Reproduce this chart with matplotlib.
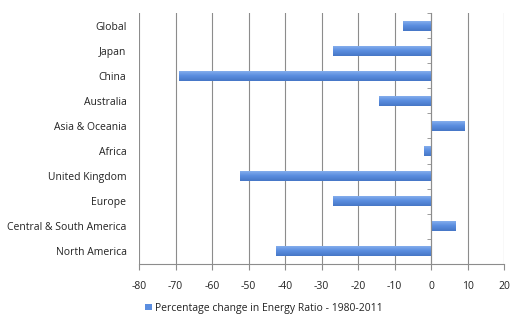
import matplotlib
matplotlib.use('Agg')
import matplotlib.pyplot as plt
import numpy as np
from matplotlib.colors import LinearSegmentedColormap

# Percentage change in energy ratio, 1980-2011, by region (top to bottom)
regions = ['Global', 'Japan', 'China', 'Australia', 'Asia & Oceania', 'Africa',
           'United Kingdom', 'Europe', 'Central & South America', 'North America']
change = [-7.8, -26.8, -69.0, -14.3, 9.3, -1.8, -52.4, -26.8, 6.7, -42.5]
xticks = list(range(-80, 21, 10))
series_name = 'Percentage change in Energy Ratio - 1980-2011'

plt.rcParams['font.family'] = ['Open Sans', 'DejaVu Sans']
fs = 7.5

fig = plt.figure(figsize=(5.23, 3.24), dpi=100)
ax = fig.add_axes([139 / 523, 60 / 324, 365 / 523, 251 / 324])

y = np.arange(len(regions))
bars = ax.barh(y, change, height=0.4, color='#5b8ee0', zorder=3,
               label=series_name)

# shaded look: light top, darker bottom, clipped to each bar
grad = np.linspace(0, 1, 64).reshape(-1, 1)
cmap = LinearSegmentedColormap.from_list('barshade', ['#8db4f0', '#5b8ee0', '#4677c6'])
for b in bars:
    x0, y0 = b.get_x(), b.get_y()
    w, h = b.get_width(), b.get_height()
    im = ax.imshow(grad, cmap=cmap, aspect='auto', zorder=4,
                   extent=[x0, x0 + w, y0 + h, y0], origin='upper')
    im.set_clip_path(b)

ax.set_xlim(-80, 20)
ax.set_ylim(len(regions) - 0.5, -0.5)
ax.set_xticks(xticks)
ax.set_xticklabels([str(t) for t in xticks])
ax.set_yticks(y)
ax.set_yticklabels(regions)

ax.xaxis.grid(True, color='#8c8c8c', linewidth=0.8, zorder=0)
ax.spines['top'].set_visible(False)
ax.spines['left'].set_visible(False)
ax.spines['bottom'].set_color('#8c8c8c')
ax.spines['right'].set_position(('data', 0))
ax.spines['right'].set_color('#8c8c8c')
ax.spines['right'].set_zorder(5)

ax.tick_params(axis='x', length=4, color='#8c8c8c', pad=8,
               labelsize=fs, labelcolor='#222222')
ax.tick_params(axis='y', which='major', length=0, pad=9, left=True, right=False,
               labelleft=True, labelright=False, labelsize=fs, labelcolor='#222222')
ax.set_yticks(np.arange(-0.5, len(regions), 1.0), minor=True)
ax.tick_params(axis='y', which='minor', left=False, right=True, direction='in',
               length=3, color='#8c8c8c')

fig.legend(handles=[bars], labels=[series_name], loc='center left',
           bbox_to_anchor=(136 / 523, 1 - 308 / 324), frameon=False,
           fontsize=fs, handlelength=0.6, handleheight=0.6, handletextpad=0.3,
           labelcolor='#222222')

fig.savefig('out.png', dpi=100)
